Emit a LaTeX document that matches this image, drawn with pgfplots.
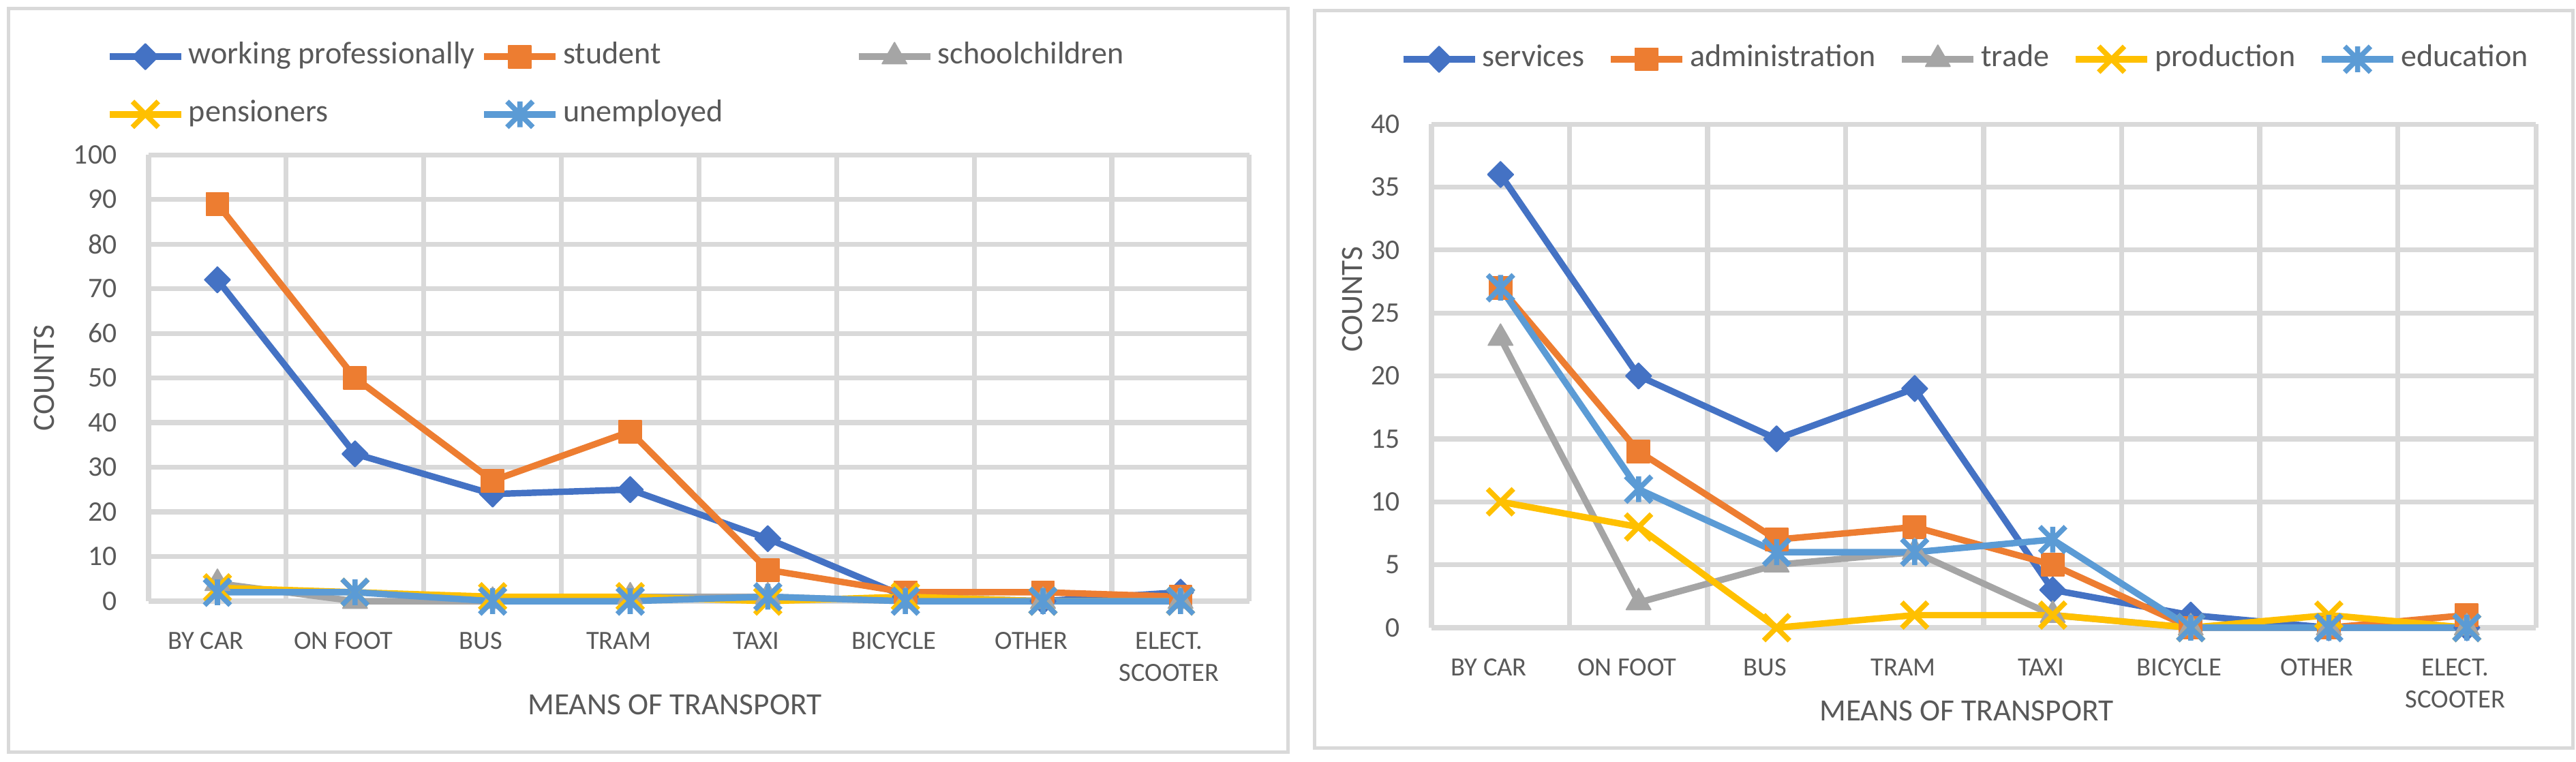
\documentclass[border=0pt]{standalone}
\usepackage{fontspec}
\setmainfont{Carlito}
\usepackage{pgfplots}
\pgfplotsset{compat=1.18}

\definecolor{c1}{HTML}{4472C4}
\definecolor{c2}{HTML}{ED7D31}
\definecolor{c3}{HTML}{A5A5A5}
\definecolor{c4}{HTML}{FFC000}
\definecolor{c5}{HTML}{5B9BD5}
\definecolor{txt}{HTML}{595959}
\definecolor{grd}{HTML}{D9D9D9}

\pgfdeclareplotmark{exx}{%
  \pgfpathmoveto{\pgfqpoint{-\pgfplotmarksize}{-\pgfplotmarksize}}%
  \pgfpathlineto{\pgfqpoint{\pgfplotmarksize}{\pgfplotmarksize}}%
  \pgfpathmoveto{\pgfqpoint{-\pgfplotmarksize}{\pgfplotmarksize}}%
  \pgfpathlineto{\pgfqpoint{\pgfplotmarksize}{-\pgfplotmarksize}}%
  \pgfusepathqstroke}
\pgfdeclareplotmark{xstar}{%
  \pgfpathmoveto{\pgfqpoint{-\pgfplotmarksize}{-\pgfplotmarksize}}%
  \pgfpathlineto{\pgfqpoint{\pgfplotmarksize}{\pgfplotmarksize}}%
  \pgfpathmoveto{\pgfqpoint{-\pgfplotmarksize}{\pgfplotmarksize}}%
  \pgfpathlineto{\pgfqpoint{\pgfplotmarksize}{-\pgfplotmarksize}}%
  \pgfpathmoveto{\pgfqpoint{0pt}{-\pgfplotmarksize}}%
  \pgfpathlineto{\pgfqpoint{0pt}{\pgfplotmarksize}}%
  \pgfusepathqstroke}

\pgfplotsset{
  common/.style={
    scale only axis,
    clip=false,
    xmin=-0.5, xmax=7.5,
    xtick={0,...,7},
    xticklabels={BY CAR, ON FOOT, BUS, TRAM, TAXI, BICYCLE, OTHER, {ELECT.\\SCOOTER}},
    minor xtick={-0.5,0.5,...,7.5},
    xminorgrids, ymajorgrids,
    minor x grid style={grd, line width=1.9pt},
    major y grid style={grd, line width=1.9pt},
    axis line style={draw=none},
    tick style={draw=none},
    major tick length=0pt, minor tick length=0pt,
    xticklabel style={font=\fontsize{10.2}{12.4}\selectfont, text=txt, align=center, anchor=north, inner sep=0pt, yshift=-11.9pt, xshift=-4.5pt},
    yticklabel style={font=\fontsize{11}{13}\selectfont, text=txt, anchor=east, inner sep=0pt, xshift=-12.2pt},
    /pgf/number format/assume math mode=true,
    label style={font=\fontsize{12}{14}\selectfont, text=txt},
    xlabel={MEANS OF TRANSPORT},
    ylabel={COUNTS},
    legend image code/.code={\draw[mark repeat=2,mark phase=2,##1] plot coordinates {(0pt,0pt) (13.9pt,0pt) (27.8pt,0pt)};},
    legend style={draw=none, fill=none, font=\fontsize{12.2}{14}\selectfont, text=txt,
      inner sep=0pt, outer sep=0pt, row sep=12.1pt,
      cells={anchor=center},
      nodes={inner sep=0pt, text height=8pt, text depth=2.3pt},
      /tikz/every odd column/.append style={column sep=1.7pt}},
    every axis plot/.append style={line width=2.5pt, line join=round},
  },
  s1/.style={color=c1, mark=diamond*, mark size=5pt, mark options={line width=0.5pt, xscale=1.33, fill=c1, draw=c1}},
  s2/.style={color=c2, mark=square*, mark size=4.35pt, mark options={line width=0.5pt, fill=c2, draw=c2}},
  s3/.style={color=c3, mark=triangle*, mark size=5.5pt, mark options={line width=0.5pt, fill=c3, draw=c3}},
  s4/.style={color=c4, mark=exx, mark size=5pt, mark options={line width=2pt, draw=c4}},
  s5/.style={color=c5, mark=xstar, mark size=5pt, mark options={line width=2pt, draw=c5}},
}

\begin{document}
\begin{tikzpicture}
\useasboundingbox (0,0) rectangle (1000pt,295.6pt);
\fill[white] (0,0) rectangle (1000pt,295.6pt);
\draw[grd, line width=1.3pt] (3.2pt,3.7pt) rectangle (500.1pt,292.3pt);
\draw[grd, line width=1.3pt] (510.4pt,5.3pt) rectangle (998.9pt,291.4pt);

% ---------- left chart ----------
\begin{axis}[common,
  at={(57.7pt,62.2pt)}, anchor=south west,
  width=427.3pt, height=173.3pt,
  ymin=0, ymax=100, ytick={0,10,...,100},
  xlabel style={at={(axis description cs:0.478,-0.232)}, anchor=center},
  ylabel style={at={(axis description cs:-0.0948,0.5)}, anchor=center},
  legend columns=3,
  legend style={at={(axis description cs:-0.0384,1.2516)}, anchor=north west},
]
\addplot+[s1] coordinates {(0,72) (1,33) (2,24) (3,25) (4,14) (5,1) (6,0) (7,2)};
\addlegendentry{\makebox[113.4pt][l]{working professionally}}
\addplot+[s2] coordinates {(0,89) (1,50) (2,27) (3,38) (4,7) (5,2) (6,2) (7,1)};
\addlegendentry{\makebox[113.4pt][l]{student}}
\addplot+[s3] coordinates {(0,4) (1,0) (2,0) (3,1) (4,1) (5,0) (6,0) (7,0)};
\addlegendentry{\makebox[113.4pt][l]{schoolchildren}}
\addplot+[s4] coordinates {(0,3) (1,2) (2,1) (3,1) (4,0) (5,1) (6,0) (7,0)};
\addlegendentry{\makebox[113.4pt][l]{pensioners}}
\addplot+[s5] coordinates {(0,2) (1,2) (2,0) (3,0) (4,1) (5,0) (6,0) (7,0)};
\addlegendentry{\makebox[113.4pt][l]{unemployed}}
\end{axis}

% ---------- right chart ----------
\begin{axis}[common,
  at={(555.7pt,51.9pt)}, anchor=south west,
  width=428.7pt, height=195.5pt,
  ymin=0, ymax=40, ytick={0,5,...,40},
  xlabel style={at={(axis description cs:0.4845,-0.165)}, anchor=center},
  ylabel style={at={(axis description cs:-0.0716,0.652)}, anchor=center},
  legend columns=5,
  legend style={at={(axis description cs:-0.02846,1.157)}, anchor=north west,
    /tikz/every even column/.append style={column sep=9pt}},
]
\addplot+[s1] coordinates {(0,36) (1,20) (2,15) (3,19) (4,3) (5,1) (6,0) (7,0)};
\addlegendentry{services}
\addplot+[s2] coordinates {(0,27) (1,14) (2,7) (3,8) (4,5) (5,0) (6,0) (7,1)};
\addlegendentry{administration}
\addplot+[s3] coordinates {(0,23) (1,2) (2,5) (3,6) (4,1) (5,0) (6,0) (7,0)};
\addlegendentry{trade}
\addplot+[s4] coordinates {(0,10) (1,8) (2,0) (3,1) (4,1) (5,0) (6,1) (7,0)};
\addlegendentry{production}
\addplot+[s5] coordinates {(0,27) (1,11) (2,6) (3,6) (4,7) (5,0) (6,0) (7,0)};
\addlegendentry{education}
\end{axis}
\end{tikzpicture}
\end{document}
